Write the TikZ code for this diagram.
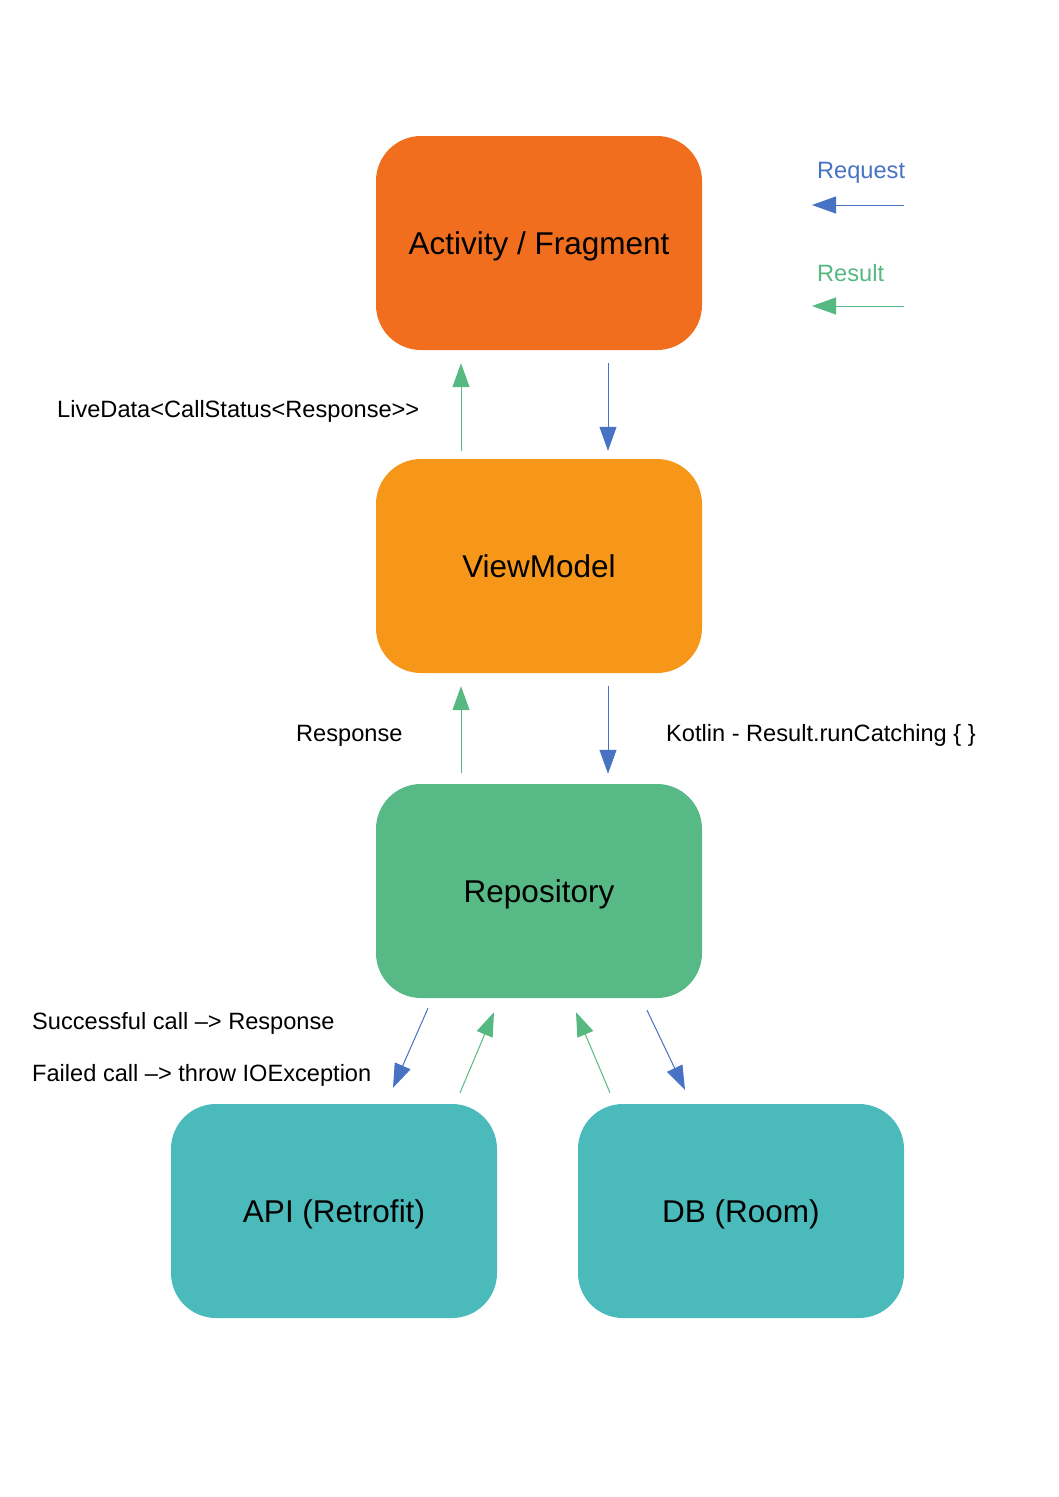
\documentclass[tikz,border=0pt]{standalone}
\usepackage{fontspec}
\setmainfont{Liberation Sans}
\usetikzlibrary{arrows.meta,calc}
\definecolor{cAF}{RGB}{240,110,30}
\definecolor{cVM}{RGB}{247,151,26}
\definecolor{cRP}{RGB}{87,185,133}
\definecolor{cDS}{RGB}{75,186,187}
\definecolor{cReq}{RGB}{72,114,196}
\definecolor{cRes}{RGB}{87,185,130}
\tikzset{
  box/.style={rounded corners=45pt, minimum width=326pt, minimum height=214pt,
    inner sep=0pt, font=\fontsize{31.5}{36}\selectfont, text=black},
  boxtext/.style={inner sep=0pt, font=\fontsize{31.5}{36}\selectfont, text=black},
  lbl/.style={anchor=west, inner sep=0pt, font=\fontsize{23.6}{27}\selectfont, text=black},
  req/.style={draw=cReq, line width=1pt, -{Triangle[length=24pt,width=17pt]}, color=cReq},
  res/.style={draw=cRes, line width=1pt, -{Triangle[length=24pt,width=17pt]}, color=cRes},
}
\begin{document}
\begin{tikzpicture}[x=1pt,y=-1pt]
\fill[white] (0,0) rectangle (1058,1497);
\useasboundingbox (0,0) rectangle (1058,1497);

\node[box, fill=cAF] (af) at (539,243) {};
\node[box, fill=cVM] (vm) at (539,566) {};
\node[box, fill=cRP] (rp) at (539,891) {};
\node[box, fill=cDS] (api) at (334,1211) {};
\node[box, fill=cDS] (db) at (741,1211) {};
\node[boxtext] (taf) at ($(af.center)+(0,3)$) {Activity / Fragment};
\node[boxtext] (tvm) at ($(vm.center)+(0,0)$) {ViewModel};
\node[boxtext] (trp) at ($(rp.center)+(0,3)$) {Repository};
\node[boxtext] (tapi) at ($(api.center)+(0,3)$) {API (Retrofit)};
\node[boxtext] (tdb) at ($(db.center)+(0,3)$) {DB (Room)};

% Activity <-> ViewModel
\draw[res] ($(vm.north)+(-78,-8)$) -- ($(af.south)+(-78,13)$);
\draw[req] ($(af.south)+(69,13)$) -- ($(vm.north)+(69,-8)$);
% ViewModel <-> Repository
\draw[res] ($(rp.north)+(-78,-11)$) -- ($(vm.south)+(-78,13)$);
\draw[req] ($(vm.south)+(69,13)$) -- ($(rp.north)+(69,-10)$);
% Repository <-> API / DB
\draw[req] ($(rp.south)+(-111,10)$) -- ($(api.north)+(59,-16)$);
\draw[res] ($(api.north)+(126,-11)$) -- ($(rp.south)+(-45,14)$);
\draw[res] ($(db.north)+(-131,-11)$) -- ($(rp.south)+(37,14)$);
\draw[req] ($(rp.south)+(108,12)$) -- ($(db.north)+(-56,-14)$);

% labels
\node[lbl] (l1) at (57,411) {LiveData<CallStatus<Response>{}>};
\node[lbl] (l2) at (296,736) {Response};
\node[lbl] (l3) at (666,735) {Kotlin - Result.runCatching \{ \}};
\node[lbl] (l4) at (32,1023) {Successful call –> Response};
\node[lbl] (l5) at (32,1075) {Failed call –> throw IOException};

% legend
\node[lbl, text=cReq] (lreq) at (817,173) {Request};
\node[lbl, text=cRes] (lres) at (817,273) {Result};
\coordinate (rq1) at (904,205);
\coordinate (rq2) at (812,205);
\coordinate (rs1) at (904,306);
\coordinate (rs2) at (812,306);
\draw[req] (rq1) -- (rq2);
\draw[res] (rs1) -- (rs2);
\end{tikzpicture}
\end{document}
